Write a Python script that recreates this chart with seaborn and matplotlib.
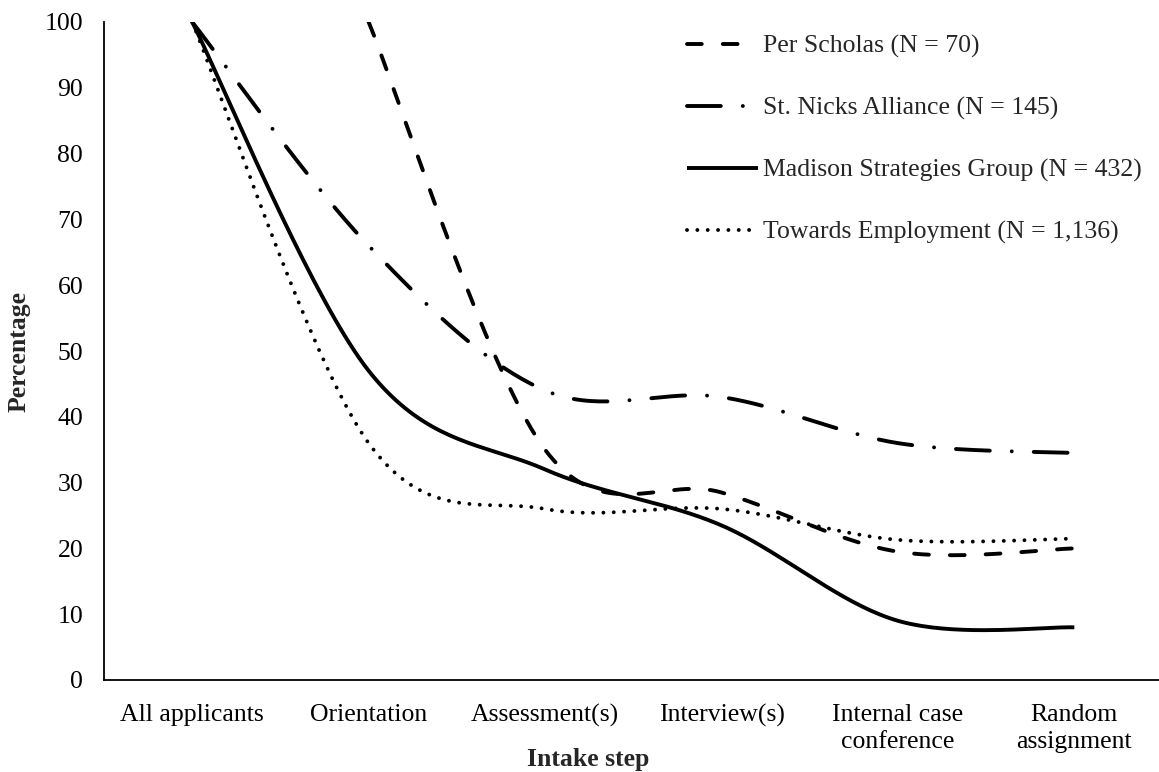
import numpy as np
import pandas as pd
import matplotlib
matplotlib.use("Agg")
import matplotlib.pyplot as plt
import seaborn as sns

# data (percent of applicants remaining)
steps = ["All applicants", "Orientation", "Assessment(s)", "Interview(s)",
         "Internal case\nconference", "Random\nassignment"]
per_scholas = [np.nan, 100, 35, 28.5, 19.5, 20]
st_nicks = [100, 66, 44, 43, 36, 34.5]
madison = [100, 47, 32, 23.5, 9, 8]
towards = [100, 36, 26, 26, 21.3, 21.5]

labels = ["Per Scholas (N = 70)", "St. Nicks Alliance (N = 145)",
          "Madison Strategies Group (N = 432)", "Towards Employment (N = 1,136)"]
styles = [(0, (3.8, 5.4)), (0, (8.7, 5.65, 0.01, 5.65)), "-", (0, (0.01, 2.65))]

sns.set_style("white")
plt.rcParams["font.family"] = ["Liberation Serif", "DejaVu Serif"]
FS = 18.5
plt.rcParams["font.size"] = FS


def smooth(xs, ys, n=40):
    # Excel-like smoothed line: Catmull-Rom through the points (in 2D)
    pts = np.array([(x, y) for x, y in zip(xs, ys) if not np.isnan(y)], float)
    out = []
    for i in range(len(pts) - 1):
        p0 = pts[max(i - 1, 0)]
        p1 = pts[i]
        p2 = pts[i + 1]
        p3 = pts[min(i + 2, len(pts) - 1)]
        m1 = (p2 - p0) / 2
        m2 = (p3 - p1) / 2
        t = np.linspace(0, 1, n)[:, None]
        h00 = 2 * t**3 - 3 * t**2 + 1
        h10 = t**3 - 2 * t**2 + t
        h01 = -2 * t**3 + 3 * t**2
        h11 = t**3 - t**2
        seg = h00 * p1 + h10 * m1 + h01 * p2 + h11 * m2
        out.append(seg if i == 0 else seg[1:])
    return np.vstack(out)


fig = plt.figure(figsize=(11.59, 7.72), dpi=100)
ax = fig.add_axes([104 / 1159, 92 / 772, 1 - 104 / 1159, 658 / 772])

xpos = np.arange(len(steps))
for vals, lab, ls in zip([per_scholas, st_nicks, madison, towards], labels, styles):
    curve = smooth(xpos, np.array(vals, float))
    df = pd.DataFrame({"x": curve[:, 0], "y": curve[:, 1]})
    sns.lineplot(data=df, x="x", y="y", ax=ax, color="black", lw=2.8,
                 linestyle=ls, dash_capstyle="round", solid_capstyle="butt",
                 estimator=None, sort=False, label=lab)

ax.set_xlim(-0.5, 5.48)
ax.set_ylim(0, 100)
ax.set_yticks(range(0, 101, 10))
ax.set_xticks(xpos)
ax.set_xticklabels(steps, linespacing=1.3)
ax.tick_params(axis="both", length=0, labelsize=FS, colors="black")
ax.tick_params(axis="x", pad=17)
ax.tick_params(axis="y", pad=15)
for s in ["top", "right"]:
    ax.spines[s].set_visible(False)
for s in ["left", "bottom"]:
    ax.spines[s].set_color("black")
    ax.spines[s].set_linewidth(1.3)

ax.set_xlabel("Intake step", fontweight="bold", fontsize=FS)
ax.set_ylabel("Percentage", fontweight="bold", fontsize=FS)
ax.xaxis.set_label_coords((588 - 104) / (1159 - 104), -0.104)
ax.yaxis.set_label_coords(-0.070, 0.5)

ax.legend(loc="upper left", bbox_to_anchor=(687 / 1159, 1 - 35 / 772),
          bbox_transform=fig.transFigure, frameon=False, fontsize=FS,
          handlelength=2.75, handletextpad=0.22, labelspacing=1.5,
          borderpad=0, borderaxespad=0)

fig.savefig("out.png", dpi=100)
